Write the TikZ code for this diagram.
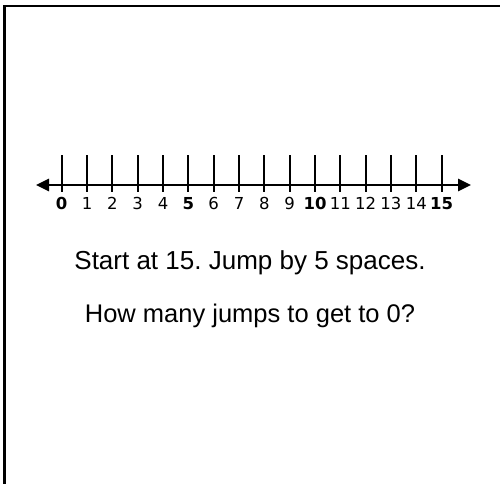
\documentclass[tikz,border=0pt]{standalone}
\usepackage{fontspec}
\setmainfont{Liberation Sans}
\newfontfamily\labelfont{DejaVu Sans}
\usetikzlibrary{arrows.meta}
\frenchspacing
\tikzset{
  frame/.style={line width=2.6pt, line cap=rect},
  axisline/.style={line width=2.6pt, {Triangle[length=13pt,width=12pt]}-{Triangle[length=13pt,width=12pt]}},
  tickmark/.style={line width=2pt},
  numlabel/.style={font=\labelfont\fontsize{16.5}{18}\selectfont, inner sep=0pt, anchor=north},
  question/.style={font=\fontsize{26}{30}\selectfont, inner sep=0pt}
}
\begin{document}
\begin{tikzpicture}[x=1pt,y=-1pt]
\useasboundingbox (0,0) rectangle (500,483);
\fill[white] (0,0) rectangle (500,483);
\draw[frame] (4.7,483) -- (4.7,6) -- (500,6);
\coordinate (L) at (36,185);
\coordinate (R) at (471,185);
\draw[axisline] (L) -- (R);
\foreach \i in {0,...,15} {
  \coordinate (t\i) at ({61.7+25.33*\i},155);
  \coordinate (b\i) at ({61.7+25.33*\i},192);
  \draw[tickmark] (t\i) -- (b\i);
}
\foreach \i in {1,2,3,4,6,7,8,9,11,12,13,14} {
  \node[numlabel] (n\i) at ({61.7+25.33*\i},197) {\i};
}
\foreach \i in {0,5,10,15} {
  \node[numlabel, font=\labelfont\bfseries\fontsize{16.5}{18}\selectfont] (n\i) at ({61.7+25.33*\i},197) {\i};
}
\node[question] (q1) at (250,263) {Start at 15. Jump by 5 spaces.};
\node[question, font=\fontsize{25.5}{30}\selectfont] (q2) at (250,316) {How many jumps to get to 0?};
\end{tikzpicture}
\end{document}
